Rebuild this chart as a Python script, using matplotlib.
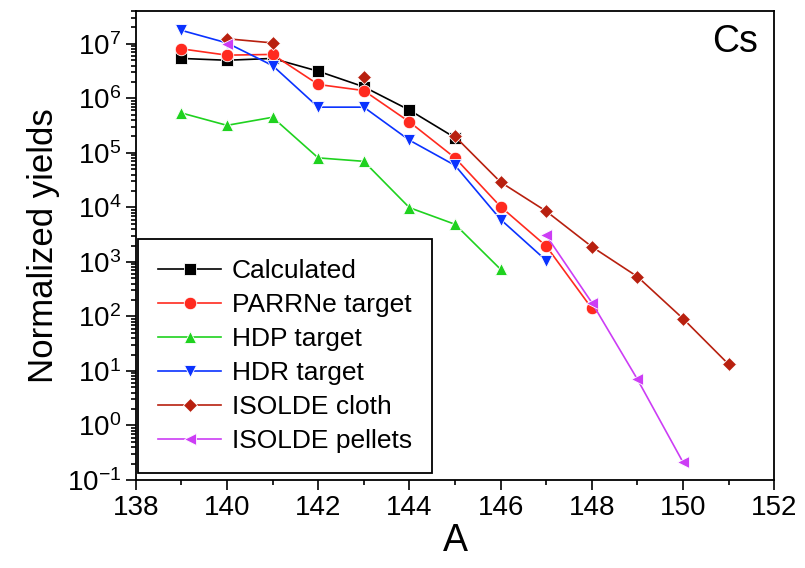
import numpy as np
import matplotlib
matplotlib.use('Agg')
import matplotlib.pyplot as plt
from matplotlib.ticker import LogLocator, MultipleLocator, NullFormatter

plt.rcParams['font.family'] = ['Liberation Sans', 'DejaVu Sans']
plt.rcParams['mathtext.fontset'] = 'custom'
plt.rcParams['mathtext.rm'] = 'Liberation Sans'
plt.rcParams['mathtext.it'] = 'Liberation Sans:italic'

# mass numbers and yields (nan = break in the line)
a_calc = [139, 140, 141, 142, 143, 144, 145]
y_calc = [5.4e6, 5.0e6, 5.4e6, 3.15e6, 1.63e6, 6.1e5, 1.9e5]

a_parrne = [139, 140, 141, 142, 143, 144, 145, 146, 147, 148]
y_parrne = [8.1e6, 6.2e6, 6.4e6, 1.8e6, 1.39e6, 3.7e5, 8.1e4, 1.03e4, 1.95e3, 140]

a_hdp = [139, 140, 141, 142, 143, 144, 145, 146]
y_hdp = [5.4e5, 3.2e5, 4.5e5, 8.1e4, 7.0e4, 9.9e3, 4.9e3, 730]

a_hdr = [139, 140, 141, 142, 143, 144, 145, 146, 147]
y_hdr = [1.77e7, 1.04e7, 4.0e6, 6.9e5, 6.9e5, 1.71e5, 5.9e4, 6.0e3, 1.06e3]

a_cloth = [140, 141, 142, 143, 144, 145, 146, 147, 148, 149, 150, 151]
y_cloth = [1.24e7, 1.04e7, np.nan, 2.44e6, np.nan, 2.0e5, 2.9e4, 8.5e3, 1.9e3, 536, 91, 13.2]

a_pellets = [140, 146, 147, 148, 149, 150]
y_pellets = [1.0e7, np.nan, 3.06e3, 179, 7.0, 0.21]

fig = plt.figure(figsize=(8.05, 5.68), dpi=100)
ax = fig.add_axes([0.1686, 0.1549, 0.7933, 0.8257])

kw = dict(lw=1.2, ms=9, mec='white', mew=0.6)
ax.plot(a_calc, y_calc, marker='s', color='black', label='Calculated', **kw)
ax.plot(a_parrne, y_parrne, marker='o', color='#ff2a1f', label='PARRNe target', **kw)
ax.plot(a_hdp, y_hdp, marker='^', color='#1fd21f', label='HDP target', **kw)
ax.plot(a_hdr, y_hdr, marker='v', color='#0a32ff', label='HDR target', **kw)
ax.plot(a_cloth, y_cloth, marker='D', color='#b8200f', label='ISOLDE cloth', lw=1.2, ms=7.5, mec='white', mew=0.6)
ax.plot(a_pellets, y_pellets, marker='<', color='#cc3df5', label='ISOLDE pellets', **kw)

ax.set_yscale('log')
ax.set_xlim(138, 152)
ax.set_ylim(0.1, 4e7)
ax.xaxis.set_major_locator(MultipleLocator(2))
ax.xaxis.set_minor_locator(MultipleLocator(1))
ax.yaxis.set_major_locator(LogLocator(base=10, numticks=20))
ax.yaxis.set_minor_locator(LogLocator(base=10, subs=np.arange(2, 10), numticks=100))
ax.yaxis.set_minor_formatter(NullFormatter())

ax.tick_params(which='both', direction='out', top=False, right=False, labelsize=20, width=1.2)
ax.tick_params(which='major', length=7)
ax.tick_params(which='minor', length=3.5)
ax.tick_params(axis='x', pad=4)
for s in ax.spines.values():
    s.set_linewidth(1.3)

ax.set_xlabel('A', fontsize=27, labelpad=1)
ax.set_ylabel('Normalized yields', fontsize=25, labelpad=5)
ax.text(0.975, 0.935, 'Cs', transform=ax.transAxes, ha='right', va='center', fontsize=27)

leg = ax.legend(loc='lower left', bbox_to_anchor=(0.004, 0.015), borderaxespad=0,
                fontsize=19, labelspacing=0.38, handlelength=2.4, handletextpad=0.4,
                borderpad=0.75, fancybox=False, framealpha=1)
leg.get_frame().set_edgecolor('black')
leg.get_frame().set_linewidth(1.3)

fig.savefig('out.png', dpi=100)
